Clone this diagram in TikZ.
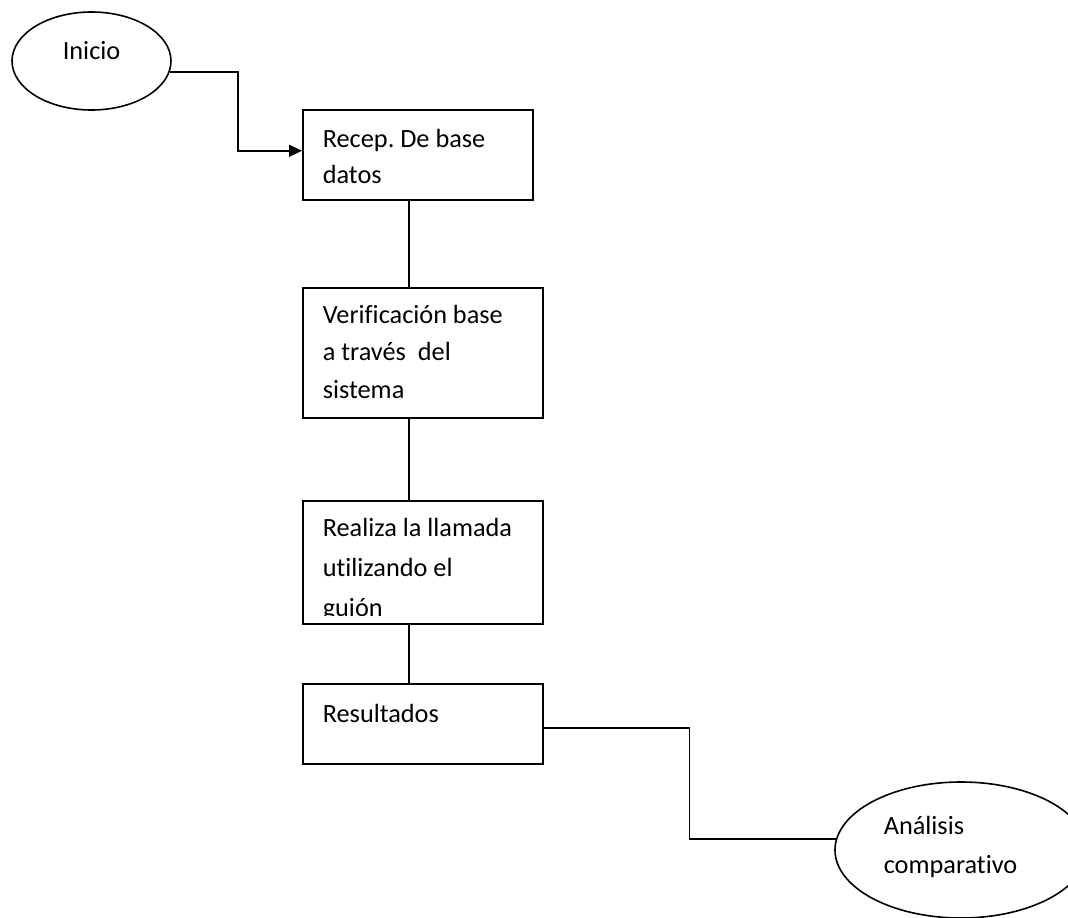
\documentclass[tikz,border=0pt]{standalone}
\usepackage{fontspec}
\setmainfont[Ligatures=NoCommon]{Carlito}
\frenchspacing
\usetikzlibrary{shapes.geometric,arrows.meta,calc}
\begin{document}
\begin{tikzpicture}[x=1pt,y=1pt,
  line width=1.6pt,
  box/.style={draw, rectangle, inner sep=0pt, anchor=north west},
  oval/.style={draw, ellipse, inner sep=0pt},
  txt/.style={anchor=base west, inner sep=0pt, font=\fontsize{26.3}{37}\selectfont},
  link/.style={line width=1.6pt},
  arrowlink/.style={link, -{Triangle[length=13pt,width=12pt]}}]
\useasboundingbox (0,0) rectangle (1068,-918);
\clip (0,0) rectangle (1068,-918);
\coordinate (spine) at (409,0);

% Inicio
\node[oval, minimum width=159pt, minimum height=98pt] (ini) at (91.5,-61) {};
\node[txt] (tini) at (62,-59.5) {Inicio};

% Box 1
\node[box, minimum width=230pt, minimum height=90pt] (b1) at (302,-109) {};
\node[txt, font=\fontsize{26.3}{36}\selectfont] (t1) at ($(b1.north west)+(20,-38)$) {\begin{minipage}[t]{300pt}Recep. De base\\datos\end{minipage}};

% Box 2
\node[box, minimum width=240pt, minimum height=130pt] (b2) at (302,-287) {};
\node[txt, font=\fontsize{26.3}{37.5}\selectfont] (t2) at ($(b2.north west)+(20,-36)$) {\begin{minipage}[t]{300pt}Verificación base\\a través\ \ del\\sistema\end{minipage}};

% Box 3 (text clipped at the bottom)
\node[box, minimum width=240pt, minimum height=123pt] (b3) at (302,-500) {};
\begin{scope}
  \clip ($(b3.north west)$) rectangle ($(b3.south east)+(0,9)$);
  \node[txt, font=\fontsize{26.3}{40}\selectfont] (t3) at ($(b3.north west)+(20,-36.5)$) {\begin{minipage}[t]{300pt}Realiza la llamada\\utilizando el\\guión\end{minipage}};
\end{scope}

% Box 4
\node[box, minimum width=240pt, minimum height=80pt] (b4) at (302,-683) {};
\node[txt] (t4) at ($(b4.north west)+(20,-39)$) {Resultados};

% Analisis comparativo
\node[oval, minimum width=252pt, minimum height=136pt] (ana) at (961,-850) {};
\node[txt, font=\fontsize{26.3}{39}\selectfont] (tana) at (883,-834) {\begin{minipage}[t]{200pt}Análisis\\comparativo\end{minipage}};

% Connectors
\draw[arrowlink] (ini.-8.6) -- ++(68,0) |- ([yshift=4pt]b1.west);
\draw[link] (b1.south -| spine) -- (b2.north -| spine);
\draw[link] (b2.south -| spine) -- (b3.north -| spine);
\draw[link] (b3.south -| spine) -- (b4.north -| spine);
\draw[link] ([yshift=-4pt]b4.east) -- ++(146,0) |- (ana.175.4);
\end{tikzpicture}
\end{document}
